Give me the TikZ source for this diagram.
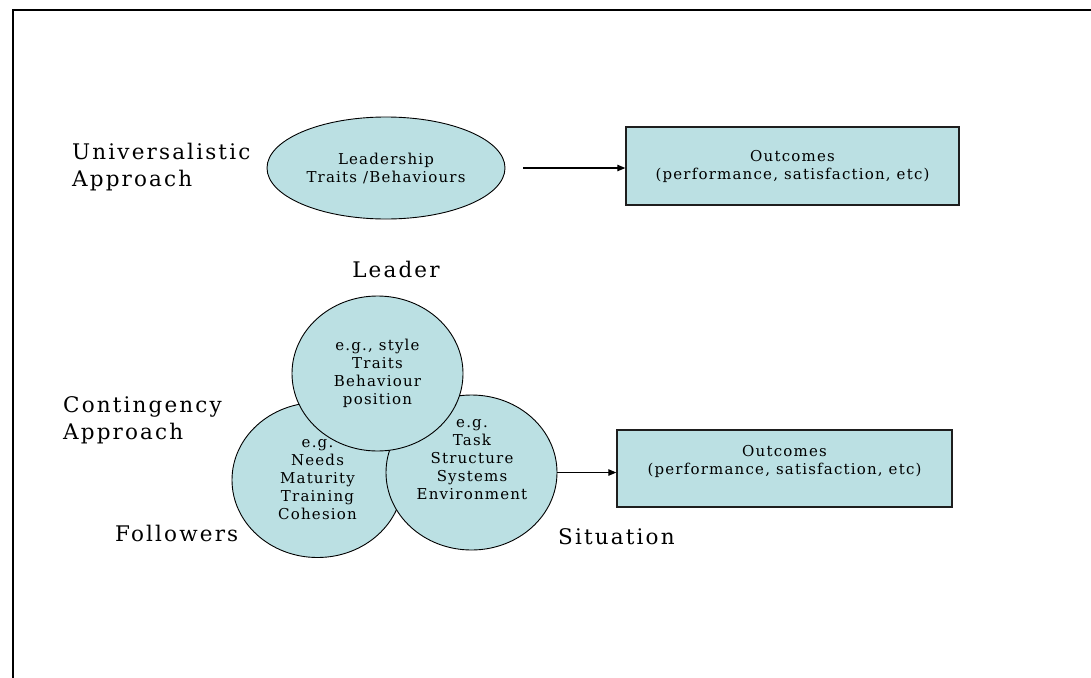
\documentclass[tikz,border=0pt]{standalone}
\usepackage{fontspec}
\setmainfont{DejaVu Serif}[LetterSpace=10]
\usetikzlibrary{arrows.meta,shapes.geometric}
\definecolor{fillblue}{RGB}{187,224,227}
\definecolor{edge}{RGB}{30,30,30}
\begin{document}
\begin{tikzpicture}[x=1pt,y=-1pt,
  heading/.style={font=\fontsize{21.5}{27}\selectfont, inner sep=0pt, align=left, anchor=west},
  smalltext/.style={font=\fontsize{15}{18}\selectfont\addfontfeature{LetterSpace=8}, align=center, inner sep=0pt},
  oval/.style={ellipse, draw=black, line width=0.9pt, fill=fillblue, inner sep=0pt},
  outbox/.style={rectangle, draw=edge, line width=1.4pt, fill=fillblue, inner sep=0pt},
  flow/.style={draw=black, line width=1.1pt, -{Triangle[length=8pt,width=6.5pt]}}
]
\useasboundingbox (0,0) rectangle (1091,677);

% page frame
\draw[line width=2pt] (13,690) -- (13,10) -- (1100,10);

% universalistic approach
\node[heading] (uniTitle) at (72,167) {Universalistic\\Approach};
\node[oval, minimum width=238pt, minimum height=102pt, smalltext] (traits) at (386,168)
  {Leadership\\Traits /Behaviours};
\node[outbox, minimum width=333pt, minimum height=78pt, smalltext] (outTop) at (792.5,166)
  {Outcomes\\(performance, satisfaction, etc)};
\draw[flow, shorten <=18pt] (traits.east) -- (traits.east -| outTop.west);

% contingency approach
\node[heading] (contTitle) at (63,420) {Contingency\\Approach};
\node[heading, anchor=center] (leaderLbl) at (396,269) {Leader};
\node[heading] (followLbl) at (115,533) {Followers};
\node[heading] (sitLbl) at (558,537) {Situation};

\node[oval, minimum width=171pt, minimum height=155pt, smalltext] (followers) at (317.5,480)
  {e.g.\\Needs\\Maturity\\Training\\Cohesion};
\node[oval, minimum width=171pt, minimum height=155pt] (situation) at (471.5,472.5) {};
\node[smalltext] (sitText) at (472,460) {e.g.\\Task\\Structure\\Systems\\Environment};
\node[oval, minimum width=171pt, minimum height=155pt, smalltext] (leader) at (377.5,373.5)
  {e.g., style\\Traits\\Behaviour\\position};

\node[outbox, minimum width=335pt, minimum height=77pt] (outBottom) at (784.5,468.5) {};
\node[smalltext] (outBottomText) at (784.5,461) {Outcomes\\(performance, satisfaction, etc)};
\draw[flow] (situation.east) -- (situation.east -| outBottom.west);
\end{tikzpicture}
\end{document}
